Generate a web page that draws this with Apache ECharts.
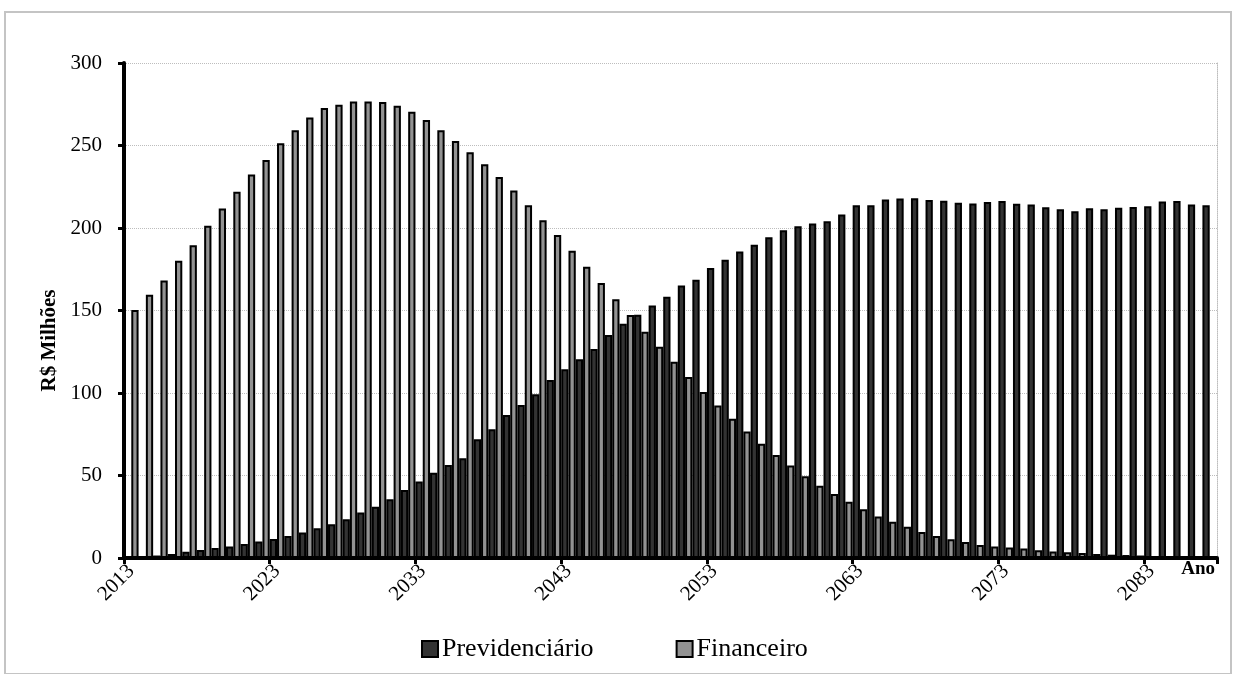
<!DOCTYPE html>
<html>
<head>
<meta charset="utf-8">
<script src="https://cdn.jsdelivr.net/npm/echarts@6/dist/echarts.min.js"></script>
<style>
html,body{margin:0;padding:0;background:#fff;}
#c{width:1236px;height:674px;}
</style>
</head>
<body>
<div id="c"></div>
<script>
const years = ["2013","2014","2015","2016","2017","2018","2019","2020","2021","2022",
"2023","2024","2025","2026","2027","2028","2029","2030","2031","2032",
"2033","2034","2035","2036","2037","2038","2039","2040","2041","2042",
"2043","2044","2045","2046","2047","2048","2049","2050","2051","2052",
"2053","2054","2055","2056","2057","2058","2059","2060","2061","2062",
"2063","2064","2065","2066","2067","2068","2069","2070","2071","2072",
"2073","2074","2075","2076","2077","2078","2079","2080","2081","2082",
"2083","2084","2085","2086","2087"];

const previdenciario = [0.3,0.8,1.5,2.5,3.8,4.8,6.0,7.0,8.5,10.0,
11.5,13.3,15.4,18.0,20.5,23.5,27.6,31.0,35.6,41.2,
46.3,51.7,56.4,60.5,72.0,78.0,86.7,92.8,99.3,107.9,
114.4,120.5,126.7,135.2,141.9,147.4,153.0,158.4,165.1,168.6,
175.7,180.8,185.8,189.9,194.4,198.6,201.0,202.7,204.1,208.2,
213.8,213.8,217.3,217.9,218.1,216.9,216.5,215.3,214.9,215.7,
216.3,214.7,214.2,212.6,211.4,210.2,212.0,211.4,212.2,212.8,
213.2,216.1,216.3,214.2,213.8];

const financeiro = [150.3,159.5,168.2,180.2,189.5,201.3,211.8,222.0,232.5,241.2,
251.4,259.3,267.0,272.7,274.7,276.7,276.7,276.3,274.1,270.4,
265.4,259.3,252.8,245.9,238.6,230.9,222.8,213.8,204.7,195.8,
186.2,176.5,166.6,156.8,147.3,137.1,128.0,118.9,109.7,100.6,
92.5,84.4,76.7,69.2,62.5,56.0,49.5,43.8,38.8,34.1,
29.6,25.1,21.9,18.9,15.8,13.4,11.4,9.7,7.9,6.9,
6.3,5.7,4.7,4.0,3.5,3.0,2.5,2.0,1.8,1.5,
1.2,1.0,0.8,0.6,0.5];

const yTicks = { min: 0, max: 300, interval: 50 };
const seriesNames = ["Previdenciário", "Financeiro"];

const serif = '"Liberation Serif", "Times New Roman", "DejaVu Serif", serif';

const chart = echarts.init(document.getElementById('c'), null, { renderer: 'canvas' });

chart.setOption({
  backgroundColor: '#ffffff',
  animation: false,
  textStyle: { fontFamily: serif, color: '#000' },
  graphic: [{
    type: 'rect',
    shape: { x: 5, y: 12, width: 1226, height: 662 },
    style: { fill: 'none', stroke: '#c4c4c4', lineWidth: 2 },
    silent: true
  }],
  grid: { left: 124, right: 19, top: 63, bottom: 116, containLabel: false },
  legend: {
    data: seriesNames,
    left: 416,
    top: 631,
    itemWidth: 16,
    itemHeight: 16,
    itemGap: 82,
    icon: 'rect',
    textStyle: { fontFamily: serif, fontSize: 26, color: '#000', padding: [0, 0, 0, -1] }
  },
  xAxis: {
    type: 'category',
    data: years,
    boundaryGap: true,
    name: 'Ano',
    nameLocation: 'end',
    nameGap: -2,
    nameTextStyle: { fontFamily: serif, fontSize: 19, fontWeight: 'bold', color: '#000', align: 'right', verticalAlign: 'top', padding: [2, 0, 0, 0] },
    axisLine: { show: true, lineStyle: { color: '#000', width: 4 } },
    axisTick: { show: true, interval: 9, length: 6, lineStyle: { color: '#000', width: 3 } },
    axisLabel: { interval: 9, rotate: 45, margin: 10, fontFamily: serif, fontSize: 21, color: '#000' },
    splitLine: { show: false }
  },
  yAxis: [{
    type: 'value',
    min: yTicks.min, max: yTicks.max, interval: yTicks.interval,
    name: 'R$ Milhões',
    nameLocation: 'middle',
    nameGap: 64,
    nameRotate: 90,
    nameTextStyle: { fontFamily: serif, fontSize: 21, fontWeight: 'bold', color: '#000', padding: [0, 60, 0, 0] },
    axisLine: { show: true, lineStyle: { color: '#000', width: 4 } },
    axisTick: { show: true, length: 6, lineStyle: { color: '#000', width: 3 } },
    axisLabel: { margin: 22, fontFamily: serif, fontSize: 21, color: '#000' },
    splitLine: { show: true, lineStyle: { color: '#bdbdbd', type: 'dotted', width: 1 } }
  }, {
    type: 'value',
    position: 'right',
    min: yTicks.min, max: yTicks.max, interval: yTicks.interval,
    axisLine: { show: true, lineStyle: { color: '#bdbdbd', type: 'dotted', width: 1 } },
    axisTick: { show: false },
    axisLabel: { show: false },
    splitLine: { show: false }
  }],
  series: [{
    name: seriesNames[0],
    type: 'bar',
    data: previdenciario,
    barGap: '0%',
    barCategoryGap: '0%',
    itemStyle: { color: '#333333', borderColor: '#000', borderWidth: 2 }
  }, {
    name: seriesNames[1],
    type: 'bar',
    data: financeiro,
    barGap: '0%',
    barCategoryGap: '0%',
    itemStyle: { color: '#929292', borderColor: '#000', borderWidth: 2 }
  }]
});
</script>
</body>
</html>
